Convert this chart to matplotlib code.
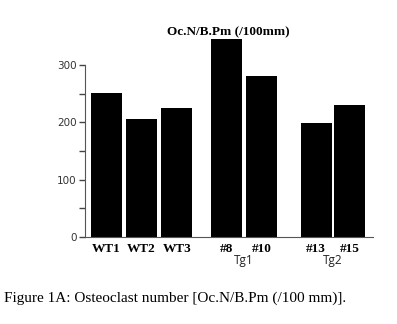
import matplotlib
matplotlib.use("Agg")
import matplotlib.pyplot as plt
from matplotlib.ticker import FixedLocator

# values
mice = ["WT1", "WT2", "WT3", "#8", "#10", "#13", "#15"]
oc_n = [251, 206, 225, 345, 280, 199, 230]
groups = ["Tg1", "Tg2"]
yticks = [0, 100, 200, 300]
yminor = [50, 150, 250]

# layout: gaps between the groups
xpos = [0, 1, 2, 3.4, 4.4, 5.95, 6.9]
group_x = [(xpos[3] + xpos[4]) / 2, (xpos[5] + xpos[6]) / 2]

fig = plt.figure(figsize=(3.97, 3.24), dpi=100)
ax = fig.add_axes([85 / 397, 87 / 324, 288 / 397, 207 / 324])

ax.bar(xpos, oc_n, width=0.88, color="black")

ax.set_xlim(-0.6, 7.56)
ax.set_ylim(0, 361)
ax.spines["top"].set_visible(False)
ax.spines["right"].set_visible(False)
ax.spines["left"].set_bounds(0, 300)
ax.spines["left"].set_color("#555555")
ax.spines["bottom"].set_color("#555555")

ax.set_yticks(yticks)
ax.yaxis.set_minor_locator(FixedLocator(yminor))
ax.tick_params(axis="y", which="both", length=4, width=1, color="#444444",
               labelsize=7.5, labelcolor="#333333", pad=2)
for lab in ax.get_yticklabels():
    lab.set_family("DejaVu Sans")

ax.set_xticks(xpos)
ax.set_xticklabels(mice, family="Liberation Serif", fontweight="bold", fontsize=9.5)
ax.tick_params(axis="x", length=0, pad=4)

for gx, g in zip(group_x, groups):
    ax.text(gx, -29, g, ha="center", va="top", fontsize=8.5,
            family="Open Sans", color="#222222")

fig.text(228 / 397, 1 - 32 / 324, "Oc.N/B.Pm (/100mm)", ha="center", va="center",
         family="Liberation Serif", fontweight="bold", fontsize=9.5)

fig.text(4 / 397, 1 - 298 / 324, "Figure 1A: Osteoclast number [Oc.N/B.Pm (/100 mm)].",
         ha="left", va="center", family="Liberation Serif", fontsize=11)

fig.savefig("out.png", dpi=100)
